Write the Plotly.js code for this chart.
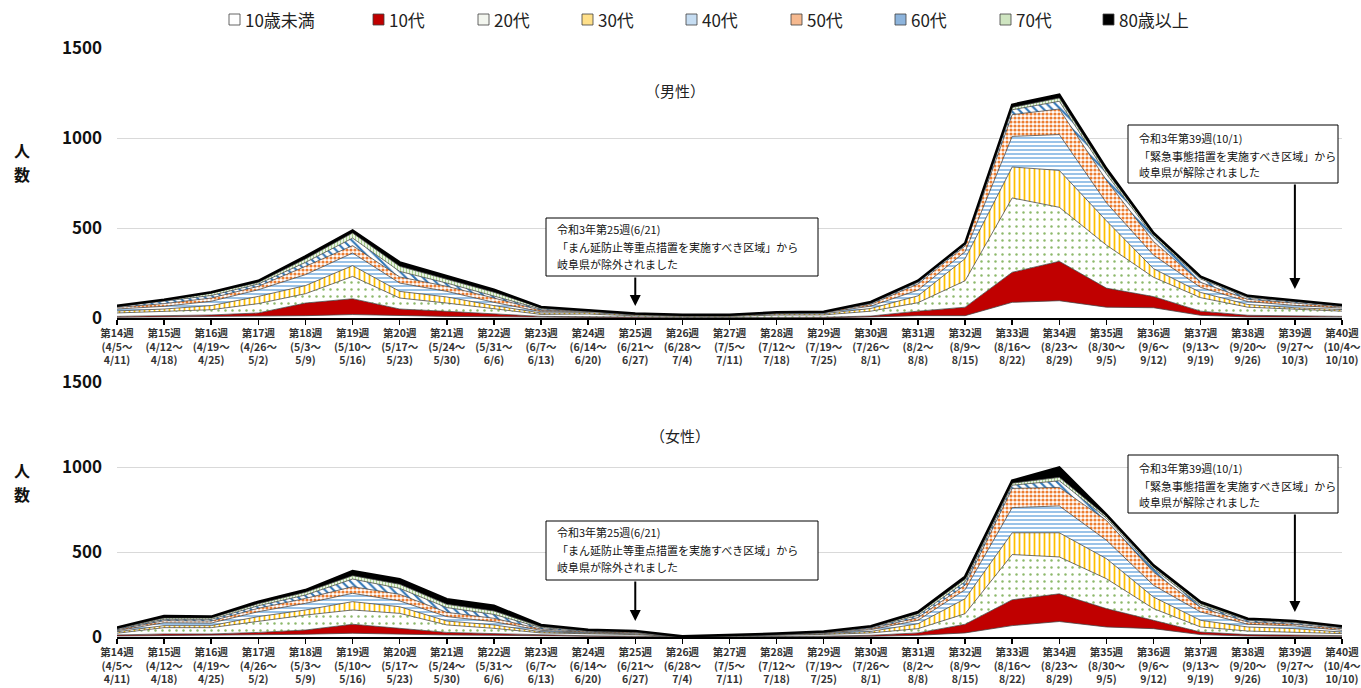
<!DOCTYPE html>
<html><head><meta charset="utf-8">
<script src="https://cdn.plot.ly/plotly-3.0.1.min.js"></script>
<style>html,body{margin:0;padding:0;background:#fff}#chart{width:1361px;height:688px}</style>
</head><body><div id="chart"></div>
<script>
// ---- categories ----
const weeks = ['第14週','第15週','第16週','第17週','第18週','第19週','第20週','第21週','第22週','第23週','第24週','第25週','第26週','第27週','第28週','第29週','第30週','第31週','第32週','第33週','第34週','第35週','第36週','第37週','第38週','第39週','第40週'];
const periodStart = ['(4/5～','(4/12～','(4/19～','(4/26～','(5/3～','(5/10～','(5/17～','(5/24～','(5/31～','(6/7～','(6/14～','(6/21～','(6/28～','(7/5～','(7/12～','(7/19～','(7/26～','(8/2～','(8/9～','(8/16～','(8/23～','(8/30～','(9/6～','(9/13～','(9/20～','(9/27～','(10/4～'];
const periodEnd = ['4/11)','4/18)','4/25)','5/2)','5/9)','5/16)','5/23)','5/30)','6/6)','6/13)','6/20)','6/27)','7/4)','7/11)','7/18)','7/25)','8/1)','8/8)','8/15)','8/22)','8/29)','9/5)','9/12)','9/19)','9/26)','10/3)','10/10)'];
const ageGroups = ['10歳未満','10代','20代','30代','40代','50代','60代','70代','80歳以上'];

// ---- male (男性) ----
const maleUnder10 = [4,6,7,9,13,19,13,9,7,4,2,1,1,1,1,1,6,13,13,87,96,60,57,15,6,6,5];
const male10s     = [5,7,10,19,70,88,37,28,17,5,5,3,2,2,3,3,5,25,47,167,219,106,62,23,9,5,4];
const male20s     = [19,22,29,52,52,124,61,46,26,11,15,8,6,6,12,13,27,47,147,413,300,239,107,75,45,36,29];
const male30s     = [11,15,23,40,45,60,37,34,19,8,8,5,3,3,6,7,15,38,123,172,205,135,48,29,15,10,9];
const male40s     = [11,15,24,37,61,70,46,31,18,7,6,3,2,3,5,5,13,32,38,170,199,100,75,28,16,13,8];
const male50s     = [9,15,18,19,46,41,34,28,24,8,5,2,2,2,3,3,10,34,32,121,142,125,76,28,13,11,7];
const male60s     = [4,12,14,13,22,42,31,18,13,7,2,1,1,1,1,2,6,9,8,27,43,35,28,19,9,10,6];
const male70s     = [3,6,13,9,19,28,28,23,19,6,1,1,0,0,1,1,4,5,4,13,18,15,12,7,6,4,2];
const male80plus  = [2,4,5,9,15,15,22,18,14,5,1,1,1,0,0,0,3,4,3,15,19,15,7,6,4,3,2];

// ---- female (女性) ----
const femaleUnder10 = [6,8,8,12,16,22,16,12,10,6,3,2,0,1,1,2,4,10,24,67,91,59,49,14,6,4,4];
const female10s     = [6,10,10,15,25,53,35,15,10,6,4,3,1,1,2,3,6,14,51,152,163,108,49,15,8,6,4];
const female20s     = [10,37,37,63,88,84,88,44,31,12,10,9,1,3,6,10,14,25,62,266,217,176,69,30,21,19,12];
const female30s     = [9,12,12,30,30,49,39,23,20,7,6,5,0,1,3,5,9,29,88,128,142,118,68,39,24,20,9];
const female40s     = [6,17,15,29,39,49,34,26,19,8,5,5,1,1,2,4,10,20,53,148,158,108,69,49,16,16,10];
const female50s     = [6,12,12,20,29,39,39,25,20,8,5,4,0,1,2,3,7,16,27,113,109,117,78,26,13,10,10];
const female60s     = [5,8,10,15,20,45,35,28,23,8,4,3,1,1,2,3,6,13,20,19,39,14,20,13,10,9,6];
const female70s     = [4,8,8,12,16,20,24,19,20,6,3,2,0,0,1,2,4,10,15,12,20,10,10,10,6,6,5];
const female80plus  = [3,12,8,12,13,27,30,30,31,10,3,3,0,1,1,1,3,10,15,15,59,10,10,10,4,4,3];

const maleSeries = [maleUnder10,male10s,male20s,male30s,male40s,male50s,male60s,male70s,male80plus];
const femaleSeries = [femaleUnder10,female10s,female20s,female30s,female40s,female50s,female60s,female70s,female80plus];

// annotation texts
const note25 = ['令和3年第25週(6/21)','「まん延防止等重点措置を実施すべき区域」から','岐阜県が除外されました'];
const note39 = ['令和3年第39週(10/1)','「緊急事態措置を実施すべき区域」から','岐阜県が解除されました'];

// ---- styles ----
const FONT = '"Noto Sans CJK JP", "Noto Sans", sans-serif';
const styles = [
  {fillcolor:'#ffffff', swatch:'#ffffff'},
  {fillcolor:'#C00000', swatch:'#C00000'},
  {pattern:{shape:'.', fgcolor:'#8DB96B', bgcolor:'#ffffff', size:7, solidity:0.1}, swatch:'#f3f6ef'},
  {pattern:{shape:'|', fgcolor:'#FFC000', bgcolor:'#ffffff', size:5, solidity:0.35}, swatch:'#FFE08A'},
  {pattern:{shape:'-', fgcolor:'#8FBCE6', bgcolor:'#ffffff', size:4, solidity:0.45}, swatch:'#C6DDF2'},
  {pattern:{shape:'.', fgcolor:'#ED7D31', bgcolor:'#ffffff', size:4, solidity:0.5}, swatch:'#F6B98F'},
  {pattern:{shape:'\\', fgcolor:'#2E75B6', bgcolor:'#ffffff', size:6, solidity:0.35}, swatch:'#8DB4DC'},
  {pattern:{shape:'|', fgcolor:'#A9D18E', bgcolor:'#E9F3E2', size:3, solidity:0.35}, swatch:'#CFE5C1'},
  {fillcolor:'#000000', swatch:'#000000'}
];

const xIdx = weeks.map((_, i) => i);
const tickText = weeks.map((w, i) => w + '<br>' + periodStart[i] + '<br>' + periodEnd[i]);

function makeTraces(series, xa, ya, group) {
  return series.map((vals, k) => {
    const s = styles[k];
    const t = {
      type:'scatter', mode:'lines', x:xIdx, y:vals, xaxis:xa, yaxis:ya,
      stackgroup:group, name:ageGroups[k], showlegend:false, hoverinfo:'skip',
      line:{color: k === 8 ? '#000000' : '#404040', width: k === 8 ? 2.5 : 0.75, shape:'linear'}
    };
    if (s.pattern) { t.fillcolor = '#ffffff'; t.fillpattern = s.pattern; }
    else { t.fillcolor = s.fillcolor; }
    return t;
  });
}

const data = makeTraces(maleSeries, 'x', 'y', 'male').concat(makeTraces(femaleSeries, 'x2', 'y2', 'female'));

// pixel helpers (plot area: x 117..1342, y 48..637)
const L = 117, R = 1342, T = 48, B = 637;
const px = v => (v - L) / (R - L);
const py = v => (B - v) / (B - T);

const xAxisBase = {
  range:[0, 26], tickvals:xIdx, ticktext:tickText, tickangle:0, ticklabeloverflow:'allow',
  tickfont:{family:FONT, size:10.5, color:'#333333', weight:'bold'},
  showline:true, linecolor:'#000000', linewidth:1.5,
  ticks:'outside', ticklen:5, tickcolor:'#000000', tickwidth:1.5,
  showgrid:false, zeroline:false, fixedrange:true
};
const yAxisBase = {
  range:[0, 1500], tickvals:[0,500,1000,1500],
  tickfont:{family:FONT, size:17, color:'#111111', weight:'bold'},
  showgrid:true, gridcolor:'#d9d9d9', gridwidth:1,
  showline:false, zeroline:false, ticks:'', ticklabelstandoff:14, fixedrange:true
};

const shapes = [];
const annotations = [];

// legend (custom)
const legendX = [229, 373, 478, 582, 686, 791, 895, 1000, 1103];
ageGroups.forEach((name, k) => {
  shapes.push({type:'rect', xref:'paper', yref:'paper',
    x0:px(legendX[k]), x1:px(legendX[k] + 11), y0:py(25), y1:py(14),
    fillcolor:styles[k].swatch, line:{color:'#404040', width:0.8}});
  annotations.push({xref:'paper', yref:'paper', x:px(legendX[k] + 14), y:py(19.5),
    xanchor:'left', yanchor:'middle', text:name, showarrow:false,
    font:{family:FONT, size:17, color:'#222222'}});
});

// titles
annotations.push({xref:'paper', yref:'paper', x:px(675), y:py(90), text:'（男性）', showarrow:false,
  xanchor:'center', yanchor:'middle', font:{family:FONT, size:15, color:'#222222'}});
annotations.push({xref:'paper', yref:'paper', x:px(680), y:py(435), text:'（女性）', showarrow:false,
  xanchor:'center', yanchor:'middle', font:{family:FONT, size:15, color:'#222222'}});

// y axis titles (stacked vertically, one character each)
[[150, '人'], [174, '数'], [470, '人'], [494, '数']].forEach(([cy, ch]) => annotations.push({
  xref:'paper', yref:'paper', x:px(22), y:py(cy),
  text:ch, showarrow:false, xanchor:'center', yanchor:'middle', borderpad:0,
  font:{family:FONT, size:16, color:'#111111', weight:'bold'}}));

// note boxes
function noteBox(x0, x1, y0, y1, lines, lineYs) {
  shapes.push({type:'rect', xref:'paper', yref:'paper', x0:px(x0), x1:px(x1), y0:py(y1), y1:py(y0),
    fillcolor:'#ffffff', line:{color:'#000000', width:1}, layer:'above'});
  lines.forEach((t, i) => annotations.push({xref:'paper', yref:'paper', x:px(x0 + 9), y:py(lineYs[i]),
    text:t, showarrow:false, xanchor:'left', yanchor:'middle',
    font:{family:FONT, size:11, color:'#111111'}}));
}
noteBox(546, 818, 218, 276, note25, [229, 247, 264]);
noteBox(1128, 1338, 125, 183, note39, [138, 156, 172]);
noteBox(546, 818, 521, 580, note25, [532, 550, 567]);
noteBox(1128, 1338, 455, 513, note39, [468, 486, 502]);

// arrows (tip at week 25 / week 39)
function arrow(xa, ya, xi, tail, tip) {
  annotations.push({xref:xa, yref:ya, axref:xa, ayref:ya, x:xi, y:tip, ax:xi, ay:tail,
    text:'', showarrow:true, arrowhead:2, arrowsize:1.1, arrowwidth:2, arrowcolor:'#000000', standoff:0, startstandoff:0});
}
arrow('x', 'y', 11, (318-276)/0.18, (318-306)/0.18);
arrow('x', 'y', 25, (318-183)/0.18, (318-289)/0.18);
arrow('x2', 'y2', 11, (637-580)/0.17, (637-621)/0.17);
arrow('x2', 'y2', 25, (637-513)/0.17, (637-612)/0.17);

const layout = {
  width:1361, height:688,
  margin:{l:L, r:1361-R, t:T, b:688-B, pad:0},
  paper_bgcolor:'#ffffff', plot_bgcolor:'#ffffff',
  showlegend:false,
  xaxis:Object.assign({}, xAxisBase, {anchor:'y'}),
  yaxis:Object.assign({}, yAxisBase, {domain:[(B-318)/(B-T), 1], anchor:'x'}),
  xaxis2:Object.assign({}, xAxisBase, {anchor:'y2'}),
  yaxis2:Object.assign({}, yAxisBase, {domain:[0, (B-382)/(B-T)], anchor:'x2'}),
  shapes:shapes, annotations:annotations,
  font:{family:FONT}
};

Plotly.newPlot('chart', data, layout, {displayModeBar:false, staticPlot:true});
</script></body></html>
